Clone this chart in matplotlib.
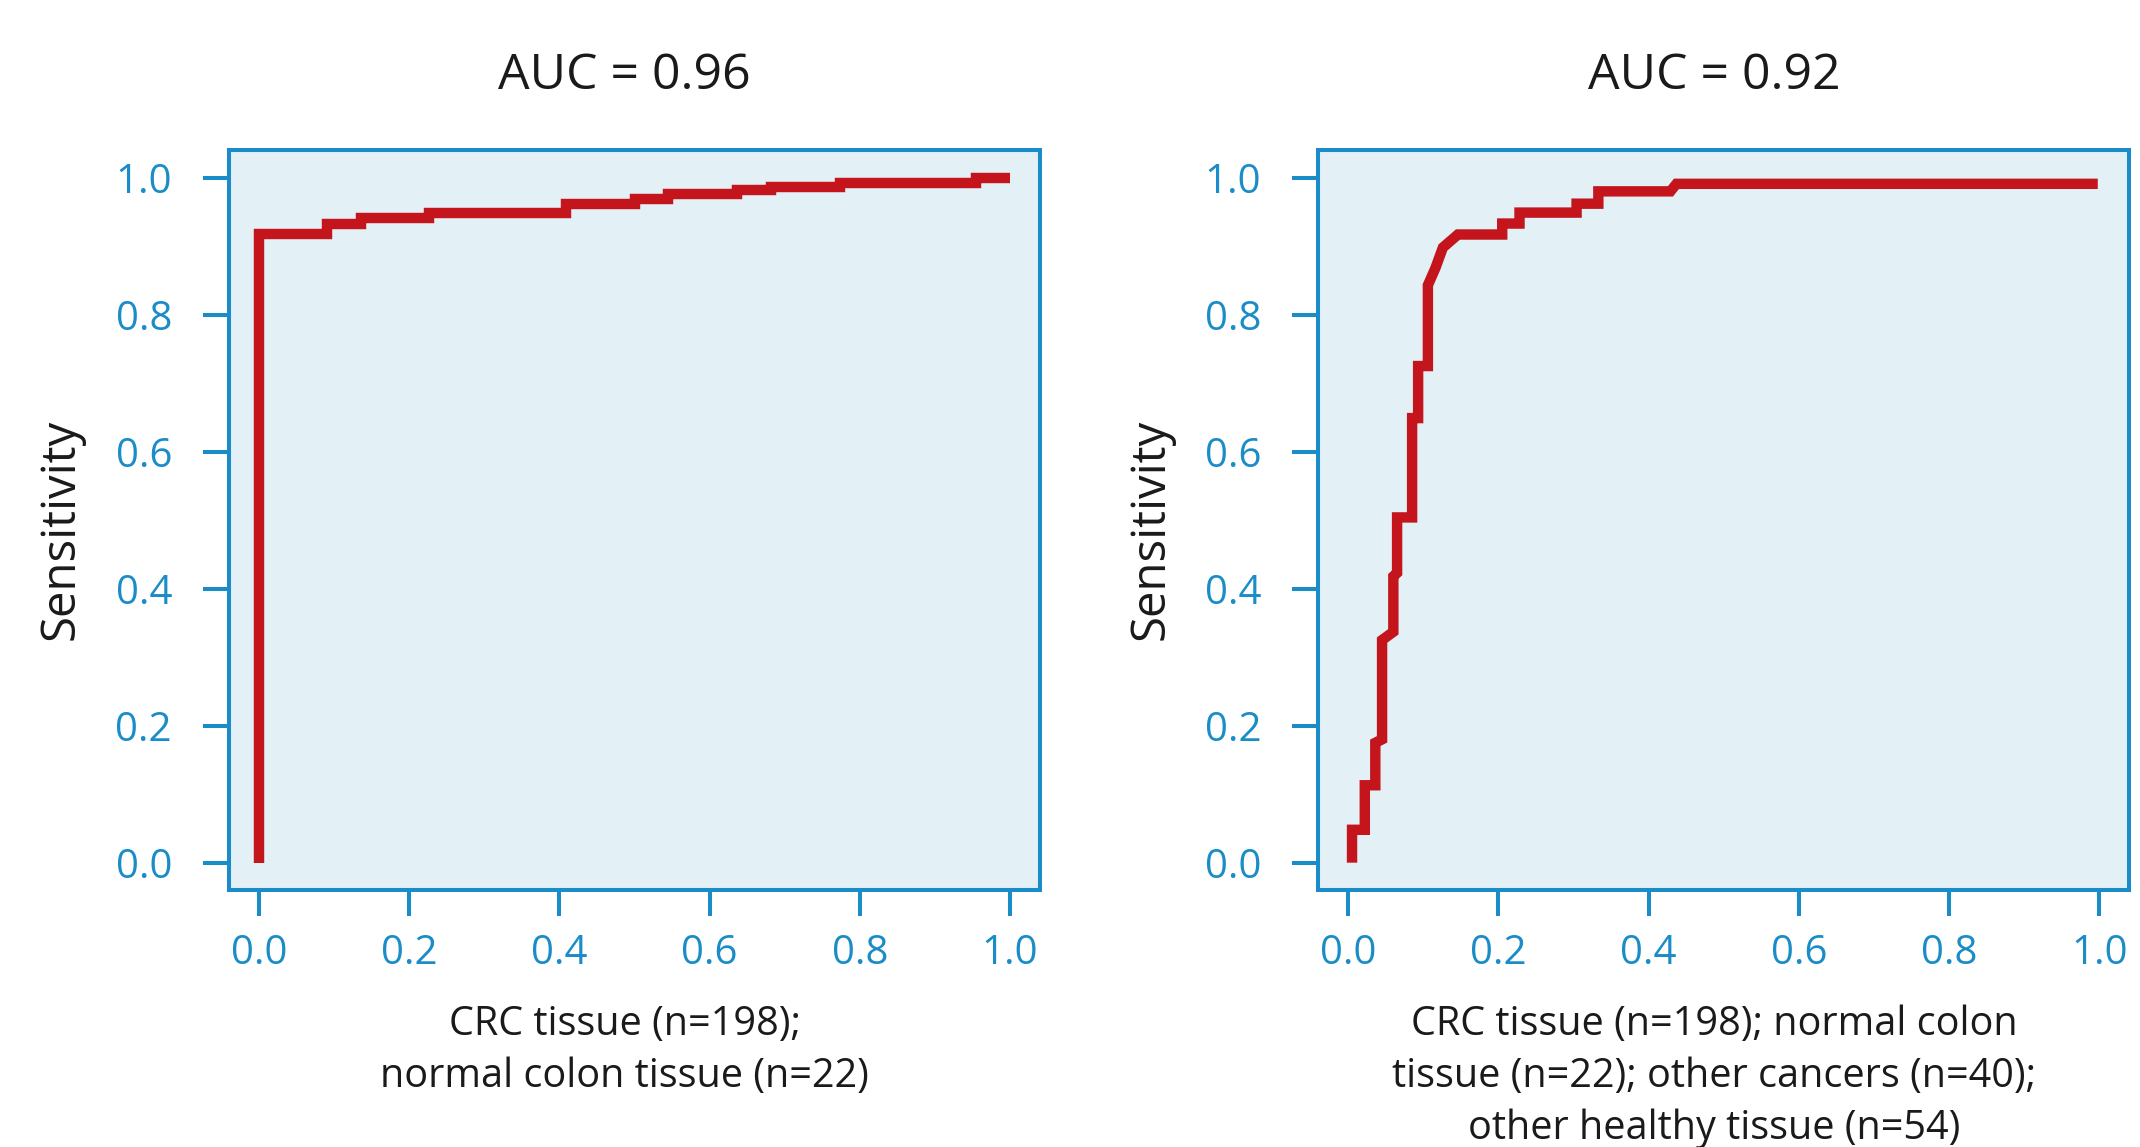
import matplotlib
matplotlib.use("Agg")
import matplotlib.pyplot as plt

plt.rcParams['font.family'] = ['Open Sans', 'DejaVu Sans']

# ---- data ----
left_fpr = [0.0, 0.0, 0.091, 0.091, 0.136, 0.136, 0.227, 0.227, 0.409, 0.409,
            0.5, 0.5, 0.545, 0.545, 0.636, 0.636, 0.682, 0.682, 0.773, 0.773,
            0.955, 0.955, 1.0]
left_tpr = [0.0, 0.918, 0.918, 0.932, 0.932, 0.941, 0.941, 0.948, 0.948, 0.961,
            0.961, 0.969, 0.969, 0.976, 0.976, 0.982, 0.982, 0.987, 0.987, 0.992,
            0.992, 0.999, 0.999]

right_fpr = [0.005, 0.005, 0.022, 0.022, 0.036, 0.036, 0.045, 0.045, 0.060, 0.060,
             0.065, 0.065, 0.085, 0.085, 0.093, 0.093, 0.106, 0.106, 0.116, 0.126,
             0.146, 0.205, 0.205, 0.228, 0.228, 0.304, 0.304, 0.333, 0.333, 0.429,
             0.437, 0.998]
right_tpr = [0.0, 0.048, 0.048, 0.113, 0.113, 0.175, 0.180, 0.325, 0.337, 0.418,
             0.423, 0.504, 0.504, 0.649, 0.649, 0.725, 0.725, 0.843, 0.868, 0.898,
             0.917, 0.917, 0.933, 0.933, 0.949, 0.949, 0.962, 0.962, 0.980, 0.980,
             0.991, 0.991]

titles = ["AUC = 0.96", "AUC = 0.92"]
xlabels = ["CRC tissue (n=198);\nnormal colon tissue (n=22)",
           "CRC tissue (n=198); normal colon\ntissue (n=22); other cancers (n=40);\nother healthy tissue (n=54)"]
ylabel = "Sensitivity"
ticks = [0.0, 0.2, 0.4, 0.6, 0.8, 1.0]
tick_labels = ["0.0", "0.2", "0.4", "0.6", "0.8", "1.0"]

BLUE = "#1a8cc7"
BG = "#e3f0f6"
RED = "#c4141c"

fig = plt.figure(figsize=(21.4, 11.47), dpi=100)
axes = [fig.add_axes([0.107, 0.224, 0.379, 0.645]),
        fig.add_axes([0.616, 0.224, 0.379, 0.645])]
curves = [(left_fpr, left_tpr), (right_fpr, right_tpr)]

for ax, (fx, ty), title, xl in zip(axes, curves, titles, xlabels):
    ax.set_facecolor(BG)
    ax.plot(fx, ty, color=RED, lw=7.5, solid_joinstyle='miter', solid_capstyle='butt')
    ax.set_xlim(-0.04, 1.04)
    ax.set_ylim(-0.04, 1.04)
    ax.set_xticks(ticks)
    ax.set_xticklabels(tick_labels)
    ax.set_yticks(ticks)
    ax.set_yticklabels(tick_labels)
    for s in ax.spines.values():
        s.set_color(BLUE)
        s.set_linewidth(2.9)
    ax.tick_params(axis='both', colors=BLUE, labelcolor=BLUE, length=19, width=2.9,
                   labelsize=29)
    ax.tick_params(axis='y', pad=22)
    ax.tick_params(axis='x', pad=12)
    ax.set_title(title, fontsize=36, pad=44, color='#1a1a1a', x=0.488)
    ax.set_ylabel(ylabel, fontsize=34, color='#1a1a1a', va='center')
    ax.yaxis.set_label_coords(-0.207, 0.487)
    ax.set_xlabel(xl, fontsize=28.5, color='#1a1a1a', va='top', linespacing=1.38)
    ax.xaxis.set_label_coords(0.488, -0.154)

fig.savefig("out.png", dpi=100, facecolor='white')
